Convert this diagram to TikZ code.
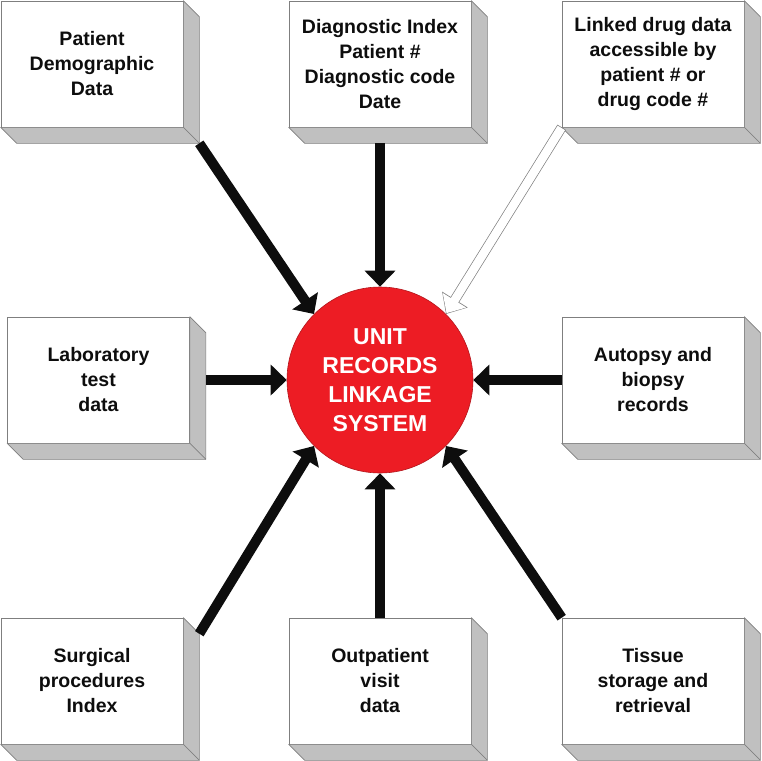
\documentclass[tikz,border=0pt]{standalone}
\usepackage{fontspec}
\setmainfont{Liberation Sans}
\usetikzlibrary{arrows.meta}
\definecolor{my_red}{HTML}{ED1C24}
\definecolor{my_darkred}{HTML}{B3161C}
\definecolor{my_facegray}{HTML}{C0C0C0}
\definecolor{my_edgegray}{HTML}{7F7F7F}
\definecolor{my_ink}{HTML}{0D0D0D}

\begin{document}
\begin{tikzpicture}[
    x=1pt, y=-1pt,
    srcbox/.style={draw=my_edgegray, line width=0.6pt, fill=white,
        minimum width=182pt, minimum height=126pt, inner sep=0pt,
        align=center, text=my_ink, font=\bfseries\fontsize{19.5}{25}\selectfont},
    extrude/.style={fill=my_facegray, draw=my_edgegray, line width=0.6pt, line join=round},
    hub/.style={circle, fill=my_red, draw=my_darkred, line width=0.6pt,
        minimum size=186pt, inner sep=0pt, align=center, text=white,
        font=\bfseries\fontsize{23}{29}\selectfont},
    feed/.style={line width=10pt, my_ink, -{Triangle[length=16pt, width=30pt]}},
    hollow_out/.style={line width=10pt, my_edgegray, -{Triangle[length=17pt, width=29pt]}},
    hollow_in/.style={line width=8.6pt, white, shorten >=1pt, shorten <=0.7pt,
        -{Triangle[length=15.2pt, width=26.6pt]}}
]

% Page frame: image coordinates, y grows downwards
\useasboundingbox (0,0) rectangle (761,761);

% Central linkage system
\node[hub] (ulk) at (380,380) {UNIT\\RECORDS\\LINKAGE\\SYSTEM};

% Source boxes (front faces)
\node[srcbox] (pdemo) at (92,64)    {Patient\\Demographic\\Data};
\node[srcbox] (diag)  at (380,64)   {Diagnostic Index\\Patient \#\\Diagnostic code\\Date};
\node[srcbox] (drug)  at (653,64)   {Linked drug data\\accessible by\\patient \# or\\drug code \#};
\node[srcbox] (lab)   at (98.5,380) {Laboratory\\test\\data};
\node[srcbox] (autop) at (653,380)  {Autopsy and\\biopsy\\records};
\node[srcbox] (surg)  at (92,681)   {Surgical\\procedures\\Index};
\node[srcbox] (outp)  at (380,681)  {Outpatient\\visit\\data};
\node[srcbox] (tiss)  at (653,681)  {Tissue\\storage and\\retrieval};

% Extruded side and bottom faces
\foreach \b in {pdemo, diag, drug, lab, autop, surg, outp, tiss} {
    \filldraw[extrude] (\b.north east) -- ++(16,16)
        -- ([shift={(16,16)}]\b.south east) -- (\b.south east) -- cycle;
    \filldraw[extrude] (\b.south west) -- ++(16,16)
        -- ([shift={(16,16)}]\b.south east) -- (\b.south east) -- cycle;
}

% Data feeds into the linkage system
\draw[feed] ([shift={(16,16)}]pdemo.south east) -- (ulk.135);
\draw[feed] ([shift={(0,16)}]diag.south) -- (ulk.north);
\draw[feed] ([shift={(16,0)}]lab.east) -- (ulk.west);
\draw[feed] (autop.west) -- (ulk.east);
\draw[feed] ([shift={(16,16)}]surg.north east) -- (ulk.225);
\draw[feed] (outp.north) -- (ulk.south);
\draw[feed] (tiss.north west) -- (ulk.315);

% Linked drug data: hollow arrow
\draw[hollow_out] (drug.south west) -- (ulk.45);
\draw[hollow_in]  (drug.south west) -- (ulk.45);

\end{tikzpicture}
\end{document}
